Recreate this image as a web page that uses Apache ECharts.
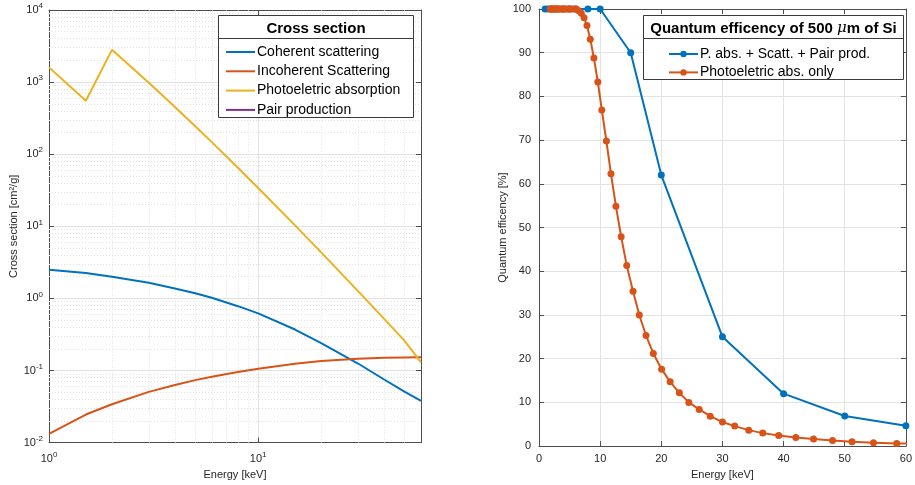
<!DOCTYPE html>
<html>
<head>
<meta charset="utf-8">
<script src="https://cdn.jsdelivr.net/npm/echarts@6/dist/echarts.min.js"></script>
<style>
html,body{margin:0;padding:0;background:#fff;}
#c{width:915px;height:485px;}
</style>
</head>
<body>
<div id="c"></div>
<script>
// ---- Left chart: cross sections of Si (cm^2/g) ----
var energyCS = [1, 1.5, 2, 3, 4, 5, 6, 8, 10, 15, 20, 30, 40, 50, 60];
var coherent = [2.5, 2.25, 2.0, 1.65, 1.37, 1.18, 1.02, 0.78, 0.62, 0.37, 0.24, 0.125, 0.075, 0.051, 0.038];
var incoherent = [0.0132, 0.0245, 0.034, 0.0505, 0.063, 0.0735, 0.082, 0.095, 0.106, 0.124, 0.135, 0.146, 0.150, 0.152, 0.153];
var photoelectric = [1600, 550, 2800, 980, 451, 244, 147, 64.9, 33.9, 10.3, 4.35, 1.26, 0.52, 0.26, 0.13];
var pairProduction = [];

// ---- Right chart: quantum efficiency (%) ----
var energyQE1 = [1, 1.5, 2, 3, 4, 5, 6, 8, 10, 15, 20, 30, 40, 50, 60];
var qeTotal = [100, 100, 100, 100, 100, 100, 100, 100, 100, 90, 62, 25, 12, 6.9, 4.65];
var energyQE2 = [1.84, 1.96, 2.09, 2.23, 2.37, 2.53, 2.69, 2.87, 3.05, 3.25, 3.46, 3.69, 3.93, 4.18, 4.45, 4.74, 5.05, 5.38, 5.73, 6.1,
  6.5, 6.92, 7.37, 7.85, 8.39, 8.98, 9.62, 10.27, 11.02, 11.77, 12.58, 13.44, 14.35, 15.38, 16.4, 17.5, 18.7, 20.05, 21.45, 22.95,
  24.5, 26.2, 28.0, 30.0, 32.0, 34.3, 36.6, 39.2, 42.0, 44.9, 48.0, 51.2, 54.7, 58.5, 62.3];
var qePhoto = [100, 100, 100, 100, 100, 100, 100, 100, 100, 100, 100, 100, 100, 100, 100, 100, 100, 100, 100, 100,
  99.6, 99.0, 98.0, 96.2, 93.1, 88.8, 83.3, 76.9, 69.8, 62.3, 54.9, 47.9, 41.3, 35.4, 30.0, 25.3, 21.2, 17.6, 14.7, 12.2,
  10.0, 8.4, 6.85, 5.5, 4.57, 3.65, 2.97, 2.44, 1.98, 1.6, 1.3, 1.0, 0.77, 0.62, 0.5];

var csNames = ['Coherent scattering', 'Incoherent Scattering', 'Photoeletric absorption', 'Pair production'];
var qeNames = ['P. abs. + Scatt. + Pair prod.', 'Photoeletric abs. only'];

var C = ['#0072BD', '#D95319', '#EDB120', '#7E2F8E'];
var AX = '#4d4d4d';
var TXT = '#262626';
var FONT = 'Liberation Sans, Arial, Helvetica, sans-serif';

function zip(xs, ys) { return xs.map(function (x, i) { return [x, ys[i]]; }); }
function pow10Label(v) {
  var e = Math.log10(v);
  var r = Math.round(e);
  if (Math.abs(e - r) > 1e-6) return '';
  return '{b|10}{e|' + r + '}';
}
var richSup = {
  b: { fontSize: 11, color: TXT, fontFamily: FONT },
  e: { fontSize: 8, color: TXT, fontFamily: FONT, padding: [0, 0, 8, 0] }
};

// minor grid positions for log axes
var minorX = [], minorY = [];
[1, 10].forEach(function (d) { for (var k = 2; k <= 9; k++) { if (k * d < 60) minorX.push(k * d); } });
[0.01, 0.1, 1, 10, 100, 1000].forEach(function (d) { for (var k = 2; k <= 9; k++) minorY.push(+(k * d).toPrecision(3)); });
var minorLines = minorX.map(function (v) { return { xAxis: v }; }).concat(minorY.map(function (v) { return { yAxis: v }; }));

function hiddenTwin(base) {
  return Object.assign({}, base, {
    axisLabel: { show: false }, splitLine: { show: false }, name: ''
  });
}

var leftX = {
  type: 'log', gridIndex: 0, min: 1, max: 60, logBase: 10,
  name: 'Energy [keV]', nameLocation: 'middle', nameGap: 17,
  nameTextStyle: { fontSize: 11, color: TXT, fontFamily: FONT },
  axisLine: { show: true, lineStyle: { color: AX, width: 1 } },
  axisTick: { show: true, inside: true, length: 5, lineStyle: { color: AX } },
  axisLabel: { formatter: pow10Label, rich: richSup, margin: 8, showMaxLabel: false },
  splitLine: { show: true, lineStyle: { color: '#e3e3e3', width: 1 } }
};
var leftY = {
  type: 'log', gridIndex: 0, min: 0.01, max: 10000, logBase: 10,
  name: 'Cross section [cm²/g]', nameLocation: 'middle', nameGap: 22,
  nameTextStyle: { fontSize: 11, color: TXT, fontFamily: FONT },
  axisLine: { show: true, lineStyle: { color: AX, width: 1 } },
  axisTick: { show: true, inside: true, length: 5, lineStyle: { color: AX } },
  axisLabel: { formatter: pow10Label, rich: richSup, margin: 6 },
  splitLine: { show: true, lineStyle: { color: '#e3e3e3', width: 1 } }
};
var rightX = {
  type: 'value', gridIndex: 1, min: 0, max: 60, interval: 10,
  name: 'Energy [keV]', nameLocation: 'middle', nameGap: 17,
  nameTextStyle: { fontSize: 11, color: TXT, fontFamily: FONT },
  axisLine: { show: true, onZero: false, lineStyle: { color: AX, width: 1 } },
  axisTick: { show: true, inside: true, length: 5, lineStyle: { color: AX } },
  axisLabel: { fontSize: 11, color: TXT, fontFamily: FONT, margin: 7 },
  splitLine: { show: true, lineStyle: { color: '#e3e3e3', width: 1 } }
};
var rightY = {
  type: 'value', gridIndex: 1, min: 0, max: 100, interval: 10,
  name: 'Quantum efficency [%]', nameLocation: 'middle', nameGap: 24,
  nameTextStyle: { fontSize: 11, color: TXT, fontFamily: FONT },
  axisLine: { show: true, onZero: false, lineStyle: { color: AX, width: 1 } },
  axisTick: { show: true, inside: true, length: 5, lineStyle: { color: AX } },
  axisLabel: { fontSize: 11, color: TXT, fontFamily: FONT, margin: 8 },
  splitLine: { show: true, lineStyle: { color: '#e3e3e3', width: 1 } }
};

var option = {
  backgroundColor: '#fff',
  animation: false,
  textStyle: { fontFamily: FONT },
  grid: [
    { left: 49, top: 10, right: 494, bottom: 39, show: false },
    { left: 539, top: 9, right: 4, bottom: 38, show: false }
  ],
  xAxis: [
    leftX,
    Object.assign(hiddenTwin(leftX), { position: 'top' }),
    rightX,
    Object.assign(hiddenTwin(rightX), { position: 'top' })
  ],
  yAxis: [
    leftY,
    Object.assign(hiddenTwin(leftY), { position: 'right' }),
    rightY,
    Object.assign(hiddenTwin(rightY), { position: 'right' })
  ],
  legend: [
    {
      data: csNames, orient: 'vertical', left: 221, top: 39,
      icon: 'rect', itemWidth: 29, itemHeight: 2, itemGap: 3.3, z: 20,
      textStyle: { fontSize: 14, color: '#000', fontFamily: FONT, lineHeight: 16, padding: [0, 0, 0, -3] },
      selectedMode: false
    },
    {
      data: qeNames, orient: 'vertical', left: 663, top: 41,
      itemWidth: 29, itemHeight: 8, itemGap: 2.4, z: 20,
      textStyle: { fontSize: 14, color: '#000', fontFamily: FONT, lineHeight: 16, padding: [0, 0, 0, -3] },
      selectedMode: false
    }
  ],
  graphic: [
    { type: 'rect', z: 10, shape: { x: 218.5, y: 15.5, width: 195, height: 102 },
      style: { fill: '#fff', stroke: '#3a3a3a', lineWidth: 1 } },
    { type: 'line', z: 11, shape: { x1: 218.5, y1: 38.5, x2: 413.5, y2: 38.5 },
      style: { stroke: '#3a3a3a', lineWidth: 1 } },
    { type: 'text', z: 11, x: 316, y: 28.5,
      style: { text: 'Cross section', fontSize: 15, fontWeight: 'bold', fill: '#000', fontFamily: FONT, align: 'center', verticalAlign: 'middle' } },
    { type: 'rect', z: 10, shape: { x: 643.5, y: 15.5, width: 260, height: 64 },
      style: { fill: '#fff', stroke: '#3a3a3a', lineWidth: 1 } },
    { type: 'line', z: 11, shape: { x1: 643.5, y1: 38.5, x2: 903.5, y2: 38.5 },
      style: { stroke: '#3a3a3a', lineWidth: 1 } },
    { type: 'text', z: 11, x: 773.5, y: 28.5,
      style: { text: '{t|Quantum efficency of 500 }{m|μ}{t|m of Si}', align: 'center', verticalAlign: 'middle',
        rich: {
          t: { fontSize: 15, fontWeight: 'bold', fill: '#000', fontFamily: FONT },
          m: { fontSize: 15, fontStyle: 'italic', fill: '#000', fontFamily: 'DejaVu Serif, serif' }
        } } }
  ],
  series: [
    { name: csNames[0], type: 'line', xAxisIndex: 0, yAxisIndex: 0, data: zip(energyCS, coherent), symbol: 'none',
      lineStyle: { color: C[0], width: 2 }, itemStyle: { color: C[0] }, z: 5 },
    { name: csNames[1], type: 'line', xAxisIndex: 0, yAxisIndex: 0, data: zip(energyCS, incoherent), symbol: 'none',
      lineStyle: { color: C[1], width: 2 }, itemStyle: { color: C[1] }, z: 5 },
    { name: csNames[2], type: 'line', xAxisIndex: 0, yAxisIndex: 0, data: zip(energyCS, photoelectric), symbol: 'none',
      lineStyle: { color: C[2], width: 2 }, itemStyle: { color: C[2] }, z: 5 },
    { name: csNames[3], type: 'line', xAxisIndex: 0, yAxisIndex: 0, data: pairProduction, symbol: 'none',
      lineStyle: { color: C[3], width: 2 }, itemStyle: { color: C[3] }, z: 5 },
    { name: 'minorGrid', type: 'line', xAxisIndex: 0, yAxisIndex: 0, data: [], silent: true, z: 1,
      markLine: { silent: true, symbol: 'none', label: { show: false }, animation: false,
        lineStyle: { color: '#e2e2e2', type: [1, 2], width: 1 }, emphasis: { disabled: true },
        data: minorLines } },
    { name: qeNames[0], type: 'line', xAxisIndex: 2, yAxisIndex: 2, data: zip(energyQE1, qeTotal),
      symbol: 'circle', symbolSize: 7, showAllSymbol: true, clip: true,
      lineStyle: { color: C[0], width: 2 }, itemStyle: { color: C[0] }, z: 5 },
    { name: qeNames[1], type: 'line', xAxisIndex: 2, yAxisIndex: 2, data: zip(energyQE2, qePhoto),
      symbol: 'circle', symbolSize: 7, showAllSymbol: true, clip: true,
      lineStyle: { color: C[1], width: 2 }, itemStyle: { color: C[1] }, z: 6 }
  ]
};

var chart = echarts.init(document.getElementById('c'), null, { renderer: 'canvas' });
chart.setOption(option);
</script>
</body>
</html>
